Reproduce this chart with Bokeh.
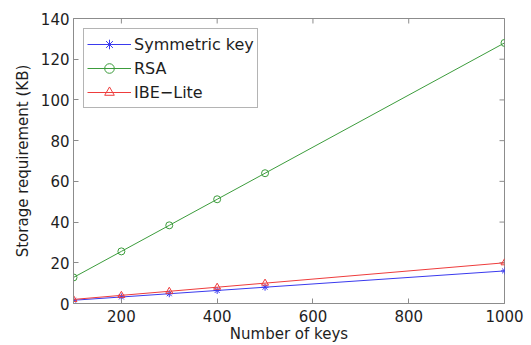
import math
from bokeh.plotting import figure
from bokeh.models import Range1d, FixedTicker
from bokeh.embed import file_html
from bokeh.resources import INLINE

keys = [100, 200, 300, 400, 500, 1000]
symmetric = [1.6, 3.2, 4.8, 6.4, 8.0, 16.0]
rsa = [12.8, 25.6, 38.4, 51.2, 64.0, 128.0]
ibe_lite = [2.0, 4.0, 6.0, 8.0, 10.0, 20.0]
x_ticks = [200, 400, 600, 800, 1000]
y_ticks = [0, 20, 40, 60, 80, 100, 120, 140]
x_min, x_max = 100, 1000
y_min, y_max = 0, 140

FONT = "DejaVu Sans"
AX = "#8c8c8c"
TXT = "#1e1e1e"

p = figure(width=531, height=345, output_backend="svg", toolbar_location=None,
           x_range=Range1d(x_min, x_max), y_range=Range1d(y_min, y_max),
           min_border_left=73, min_border_right=27, min_border_top=18, min_border_bottom=40)
p.xgrid.visible = False
p.ygrid.visible = False
p.outline_line_color = AX
p.outline_line_width = 1

def style(ax, ticks):
    ax.ticker = FixedTicker(ticks=ticks)
    ax.axis_line_color = AX
    ax.major_tick_line_color = AX
    ax.major_tick_in = 5
    ax.major_tick_out = 0
    ax.minor_tick_line_color = None
    ax.major_label_text_font = FONT
    ax.major_label_text_color = TXT
    ax.major_label_text_font_size = "15px"
    ax.axis_label_text_font = FONT
    ax.axis_label_text_font_style = "normal"
    ax.axis_label_text_font_size = "15px"
    ax.axis_label_text_color = TXT

style(p.xaxis[0], x_ticks)
style(p.yaxis[0], y_ticks)
p.xaxis[0].axis_label = "Number of keys"
p.xaxis[0].major_label_standoff = 6
p.xaxis[0].axis_label_standoff = 0
p.yaxis[0].axis_label = "Storage requirement (KB)"
p.yaxis[0].major_label_standoff = 4
p.yaxis[0].axis_label_standoff = 6

# inward ticks on the top and right edges of the box
p.scatter(x_ticks, [y_max] * len(x_ticks), marker="dash", angle=math.pi / 2,
          size=10, line_color=AX, line_width=1)
p.scatter([x_max] * len(y_ticks), y_ticks, marker="dash",
          size=10, line_color=AX, line_width=1)

series = [("Symmetric key", symmetric, "#3a3aee", "asterisk"),
          ("RSA", rsa, "#3c9c3c", "circle"),
          ("IBE\u2212Lite", ibe_lite, "#ee3c3c", "triangle")]
for name, ys, col, mk in series:
    p.line(keys, ys, line_color=col, line_width=1, legend_label=name)
    p.scatter(keys, ys, marker=mk, size=7, line_color=col, fill_color=None,
              line_width=1, legend_label=name)

lg = p.legend[0]
lg.location = "top_left"
lg.margin = 10
lg.padding = 3
lg.spacing = 0
lg.label_text_font = FONT
lg.label_text_font_size = "16px"
lg.label_text_color = TXT
lg.glyph_width = 44
lg.glyph_height = 24
lg.label_height = 24
lg.label_standoff = 3
lg.border_line_color = "#6a6a6a"
lg.border_line_width = 1
lg.background_fill_alpha = 1

open("out.html", "w").write(file_html(p, INLINE))
